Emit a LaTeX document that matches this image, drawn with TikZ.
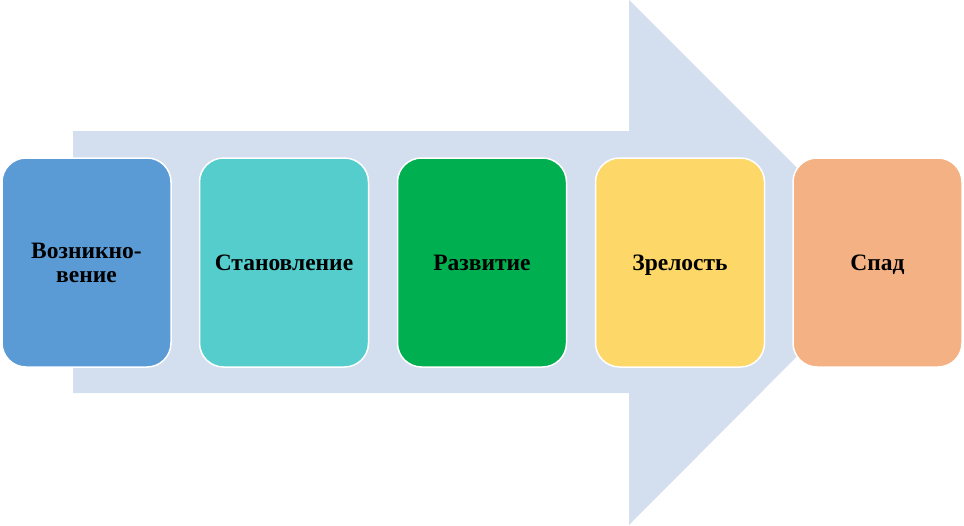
\documentclass[tikz,border=0pt]{standalone}
\usepackage{fontspec}
\setmainfont{Liberation Serif}
\definecolor{arrowc}{HTML}{D3DEEF}
\definecolor{c1}{HTML}{5B9BD5}
\definecolor{c2}{HTML}{56CDCD}
\definecolor{c3}{HTML}{00B050}
\definecolor{c4}{HTML}{FDD868}
\definecolor{c5}{HTML}{F4B183}
\tikzset{
  stage/.style={draw=white, line width=1.5pt, rounded corners=24pt, minimum width=169pt, minimum height=209pt, inner sep=0pt, align=center, font=\fontsize{23.5}{24}\selectfont\bfseries, text=black},
  oneline/.style={text height=17pt, text depth=2pt}
}
\begin{document}
\begin{tikzpicture}[x=1pt,y=-1pt]
\useasboundingbox (0,0) rectangle (964,525);
\fill[arrowc] (73,131) -- (629,131) -- (629,0) -- (891,262) -- (629,525) -- (629,393) -- (73,393) -- cycle;
\node[stage, fill=c1] (s1) at (86.5,262.5) {Возникно-\\вение};
\node[stage, oneline, fill=c2] (s2) at (284,262.5) {Становление};
\node[stage, oneline, fill=c3] (s3) at (482,262.5) {Развитие};
\node[stage, oneline, fill=c4] (s4) at (680,262.5) {Зрелость};
\node[stage, oneline, fill=c5] (s5) at (877.5,262.5) {Спад};
\end{tikzpicture}
\end{document}
